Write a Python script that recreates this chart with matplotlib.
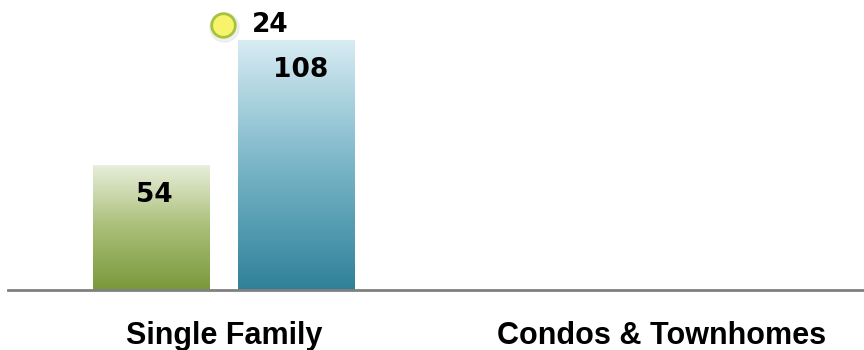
import numpy as np
import matplotlib.pyplot as plt
from matplotlib.colors import LinearSegmentedColormap

categories = ['Single Family', 'Condos & Townhomes']
series_a = [54, None]        # green bars
series_b = [108, None]       # blue bars
marker_vals = [24, None]     # yellow point, right axis

green_cmap = LinearSegmentedColormap.from_list('g', ['#7a983a', '#a9bf78', '#e9efdc'])
blue_cmap = LinearSegmentedColormap.from_list('b', ['#2f8199', '#7ab6c8', '#d8ecf3'])

fig = plt.figure(figsize=(8.64, 3.5), dpi=100)
ax = fig.add_axes([8 / 864, 60 / 350, 856 / 864, 280 / 350])
ax.set_xlim(-0.493, 1.461)
ax.set_ylim(0, 108 * 280 / 250)

width = 0.267
offset = 0.1655
grad = np.linspace(0, 1, 256).reshape(-1, 1)


def gradient_bar(x, h, cmap):
    bar = ax.bar(x, h, width, color='none', edgecolor='none', zorder=2)[0]
    im = ax.imshow(grad, cmap=cmap, origin='lower', aspect='auto',
                   extent=[x - width / 2, x + width / 2, 0, h], zorder=2)
    im.set_clip_path(bar)
    return bar


for i, cat in enumerate(categories):
    if series_a[i] is not None:
        gradient_bar(i - offset, series_a[i], green_cmap)
        ax.text(i - offset + 0.007, series_a[i] - 13, str(series_a[i]), ha='center', va='center',
                fontsize=19, fontweight='bold', family='DejaVu Sans', zorder=4)
    if series_b[i] is not None:
        gradient_bar(i + offset, series_b[i], blue_cmap)
        ax.text(i + offset + 0.009, series_b[i] - 13, str(series_b[i]), ha='center', va='center',
                fontsize=19, fontweight='bold', family='DejaVu Sans', zorder=4)
    ax.text(i, -46 / 280, cat, transform=ax.get_xaxis_transform(), ha='center', va='center',
            family=['Liberation Sans', 'DejaVu Sans'], fontsize=22, fontweight='bold')

ax.axhline(0, color='#808080', lw=2, zorder=3, clip_on=False)
ax.set_xticks([])
ax.set_yticks([])
for s in ax.spines.values():
    s.set_visible(False)
ax.patch.set_alpha(0)

# secondary axis for the point series
ax2 = ax.twinx()
ax2.set_ylim(0, 24 * 280 / 265)
ax2.set_yticks([])
for s in ax2.spines.values():
    s.set_visible(False)
for i, v in enumerate(marker_vals):
    if v is not None:
        ax2.plot(i, v - 0.15, 'o', ms=21, color='#d8d8d8', alpha=0.35, zorder=4)
        ax2.plot(i - 0.003, v, 'o', ms=17, mfc='#f7f36a', mec='#a5c43e', mew=2, zorder=5)
        ax2.annotate(str(v), (i, v), xytext=(20, 0), textcoords='offset points',
                     ha='left', va='center', fontsize=19, fontweight='bold',
                     family='DejaVu Sans', zorder=5)

fig.savefig('out.png', dpi=100)
